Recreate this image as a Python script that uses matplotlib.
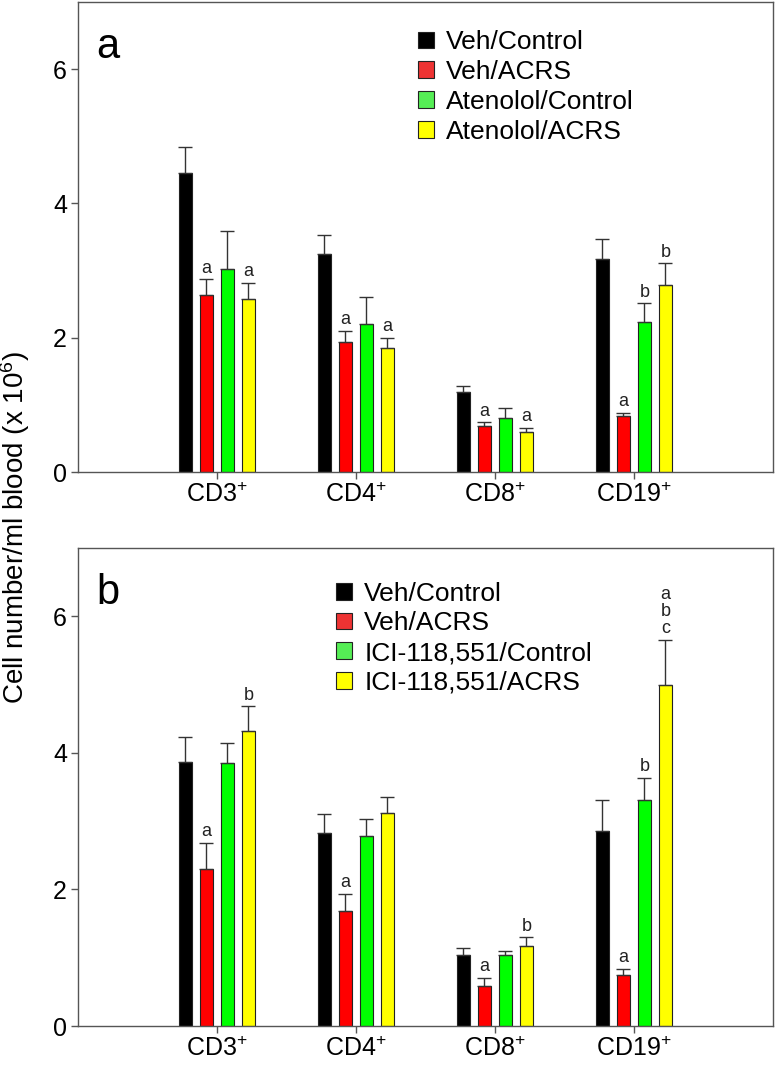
import matplotlib
matplotlib.use("Agg")
import matplotlib.pyplot as plt
from matplotlib.patches import Patch
import numpy as np

plt.rcParams["font.family"] = ["Liberation Sans", "DejaVu Sans"]
plt.rcParams["mathtext.fontset"] = "custom"
plt.rcParams["mathtext.rm"] = "Liberation Sans"

# ---------------------------------------------------------------------------
# Data
# ---------------------------------------------------------------------------
groups = ["CD3", "CD4", "CD8", "CD19"]
colors = ["#000000", "#FF0000", "#00FF00", "#FFFF00"]
legend_colors = ["#000000", "#EE3333", "#55EE55", "#FFFF00"]

# panel a
a_labels = ["Veh/Control", "Veh/ACRS", "Atenolol/Control", "Atenolol/ACRS"]
a_veh_ctrl = [4.46, 3.24, 1.19, 3.17]
a_veh_acrs = [2.63, 1.93, 0.68, 0.83]
a_ate_ctrl = [3.03, 2.20, 0.81, 2.24]
a_ate_acrs = [2.57, 1.84, 0.59, 2.79]
a_veh_ctrl_err = [0.38, 0.29, 0.09, 0.30]
a_veh_acrs_err = [0.24, 0.17, 0.06, 0.05]
a_ate_ctrl_err = [0.56, 0.41, 0.14, 0.27]
a_ate_acrs_err = [0.25, 0.16, 0.07, 0.32]
a_veh_ctrl_sig = ["", "", "", ""]
a_veh_acrs_sig = ["a", "a", "a", "a"]
a_ate_ctrl_sig = ["", "", "", "b"]
a_ate_acrs_sig = ["a", "a", "a", "b"]

# panel b
b_labels = ["Veh/Control", "Veh/ACRS", "ICI-118,551/Control", "ICI-118,551/ACRS"]
b_veh_ctrl = [3.87, 2.82, 1.04, 2.86]
b_veh_acrs = [2.30, 1.69, 0.59, 0.75]
b_ici_ctrl = [3.85, 2.79, 1.04, 3.31]
b_ici_acrs = [4.32, 3.12, 1.17, 5.00]
b_veh_ctrl_err = [0.37, 0.28, 0.10, 0.45]
b_veh_acrs_err = [0.38, 0.25, 0.11, 0.09]
b_ici_ctrl_err = [0.30, 0.24, 0.06, 0.32]
b_ici_acrs_err = [0.36, 0.24, 0.13, 0.66]
b_veh_ctrl_sig = ["", "", "", ""]
b_veh_acrs_sig = ["a", "a", "a", "a"]
b_ici_ctrl_sig = ["", "", "", "b"]
b_ici_acrs_sig = ["b", "", "b", "a\nb\nc"]

BAR_W = 0.094
STEP = 0.151


def draw_panel(ax, means, errs, sigs, labels, letter, leg_xy):
    x = np.arange(1, len(groups) + 1)
    for i, (m, e, s) in enumerate(zip(means, errs, sigs)):
        xs = x + (i - 1.5) * STEP
        ax.bar(xs, m, width=BAR_W, color=colors[i], edgecolor="#222222",
               linewidth=0.8, zorder=2)
        ax.errorbar(xs, m, yerr=[np.zeros(len(m)), e], fmt="none",
                    ecolor="#333333", elinewidth=1, capsize=5, capthick=1,
                    zorder=3)
        for xi, mi, ei, si in zip(xs, m, e, s):
            if si:
                ax.text(xi, mi + ei + 0.04, si, ha="center", va="bottom",
                        fontsize=13, linespacing=1.0, color="#222222")

    ax.set_xlim(0, 5)
    ax.set_ylim(0, 7)
    ax.set_yticks([0, 2, 4, 6])
    ax.set_xticks(x)
    ax.set_xticklabels([r"$\mathregular{%s^{+}}$" % g for g in groups])
    ax.tick_params(axis="both", direction="out", length=5, width=1,
                   color="#555555", labelsize=18, pad=3)
    for sp in ax.spines.values():
        sp.set_color("#555555")
        sp.set_linewidth(1)

    ax.text(0.043, 0.905, letter, transform=ax.transAxes, fontsize=30,
            ha="center", va="center")

    handles = [Patch(facecolor=legend_colors[i], edgecolor="#222222",
                     linewidth=0.8) for i in range(4)]
    ax.legend(handles, labels, loc="upper left", bbox_to_anchor=leg_xy,
              frameon=False, fontsize=19, handlelength=0.6, handleheight=0.6,
              handletextpad=0.45, labelspacing=0.22, borderpad=0,
              borderaxespad=0)


fig = plt.figure(figsize=(7.76, 10.65), dpi=100)
ax_a = fig.add_axes([0.1005, 0.5568, 0.8955, 0.4413])
ax_b = fig.add_axes([0.1005, 0.0366, 0.8955, 0.4488])

draw_panel(ax_a,
           [a_veh_ctrl, a_veh_acrs, a_ate_ctrl, a_ate_acrs],
           [a_veh_ctrl_err, a_veh_acrs_err, a_ate_ctrl_err, a_ate_acrs_err],
           [a_veh_ctrl_sig, a_veh_acrs_sig, a_ate_ctrl_sig, a_ate_acrs_sig],
           a_labels, "a", (0.49, 0.94))
draw_panel(ax_b,
           [b_veh_ctrl, b_veh_acrs, b_ici_ctrl, b_ici_acrs],
           [b_veh_ctrl_err, b_veh_acrs_err, b_ici_ctrl_err, b_ici_acrs_err],
           [b_veh_ctrl_sig, b_veh_acrs_sig, b_ici_ctrl_sig, b_ici_acrs_sig],
           b_labels, "b", (0.372, 0.93))

fig.text(0.02, 0.505, r"Cell number/ml blood (x $\mathregular{10^{6}}$)",
         rotation=90, ha="center", va="center", fontsize=20)

fig.savefig("out.png", dpi=100)
